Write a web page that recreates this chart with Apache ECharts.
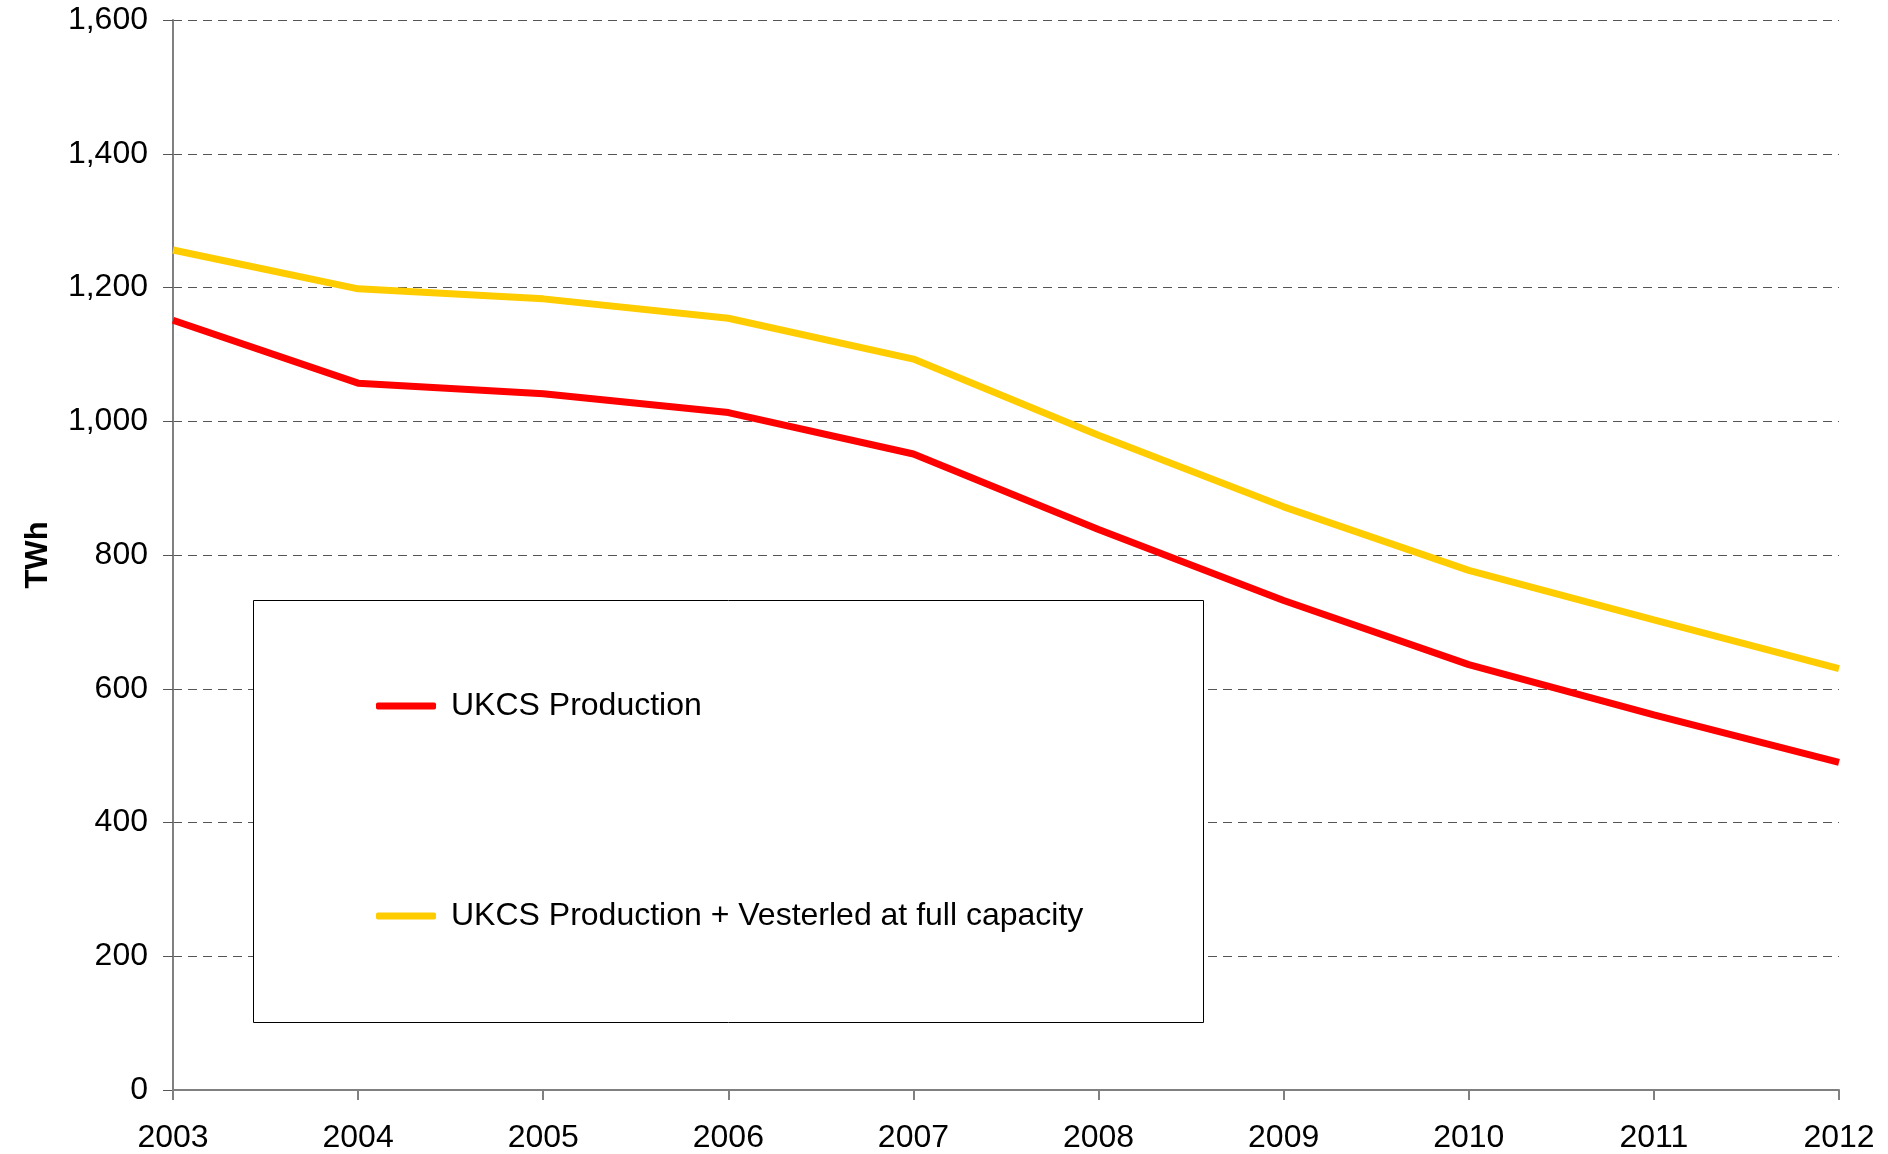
<!DOCTYPE html>
<html>
<head>
<meta charset="utf-8">
<script src="https://cdn.jsdelivr.net/npm/echarts@6/dist/echarts.min.js"></script>
<style>
html,body{margin:0;padding:0;background:#fff;}
#chart{width:1888px;height:1154px;}
</style>
</head>
<body>
<div id="chart"></div>
<script>
const years = ['2003','2004','2005','2006','2007','2008','2009','2010','2011','2012'];
const ukcsProduction = [1151, 1057, 1041, 1013, 951, 838, 732, 636, 561, 490];
const ukcsPlusVesterled = [1256, 1198, 1183, 1154, 1093, 979, 872, 777, 703, 630];
const seriesNames = ['UKCS Production', 'UKCS Production + Vesterled at full capacity'];
const yTicks = { min: 0, max: 1600, interval: 200 };

const FONT = "'Liberation Sans', Arial, sans-serif";
const chart = echarts.init(document.getElementById('chart'));
chart.setOption({
  animation: false,
  backgroundColor: '#ffffff',
  textStyle: { fontFamily: FONT },
  grid: { left: 173, right: 49, top: 20, bottom: 62, containLabel: false },
  graphic: [{
    type: 'rect',
    z: 3,
    shape: { x: 253.5, y: 600.5, width: 950, height: 422 },
    style: { fill: '#ffffff', stroke: '#000000', lineWidth: 1 }
  }],
  legend: {
    z: 5,
    orient: 'vertical',
    left: 376,
    top: 688,
    padding: 0,
    itemGap: 174,
    itemWidth: 60,
    itemHeight: 7,
    icon: 'roundRect',
    textStyle: { fontFamily: FONT, fontSize: 32, color: '#000', lineHeight: 32, padding: [4, 0, 0, 10] },
    data: seriesNames
  },
  xAxis: {
    type: 'category',
    data: years,
    boundaryGap: false,
    axisLine: { lineStyle: { color: '#808080', width: 2 } },
    axisTick: { show: true, inside: false, length: 10, alignWithLabel: true, lineStyle: { color: '#808080', width: 2 } },
    axisLabel: { fontFamily: FONT, fontSize: 32, color: '#000', margin: 32 },
    splitLine: { show: false }
  },
  yAxis: {
    type: 'value',
    min: yTicks.min,
    max: yTicks.max,
    interval: yTicks.interval,
    name: 'TWh',
    nameLocation: 'middle',
    nameRotate: 90,
    nameGap: 119,
    nameTextStyle: { fontFamily: FONT, fontSize: 31, fontWeight: 'bold', color: '#000' },
    axisLine: { show: true, lineStyle: { color: '#808080', width: 2 } },
    axisTick: { show: true, inside: false, length: 10, lineStyle: { color: '#555', width: 1 } },
    axisLabel: {
      fontFamily: FONT, fontSize: 32, color: '#000', margin: 25,
      formatter: v => v.toLocaleString('en-US')
    },
    splitLine: { show: true, lineStyle: { color: '#555555', width: 1, type: [9, 6] } }
  },
  series: [
    {
      name: seriesNames[0],
      type: 'line',
      data: ukcsProduction,
      symbol: 'none',
      lineStyle: { color: '#ff0000', width: 7 },
      itemStyle: { color: '#ff0000' },
      z: 2
    },
    {
      name: seriesNames[1],
      type: 'line',
      data: ukcsPlusVesterled,
      symbol: 'none',
      lineStyle: { color: '#ffcc00', width: 7 },
      itemStyle: { color: '#ffcc00' },
      z: 2
    }
  ]
});
</script>
</body>
</html>
